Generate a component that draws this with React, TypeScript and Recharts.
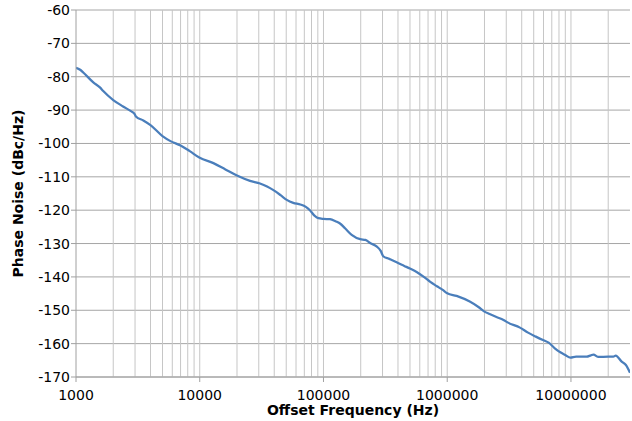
import React from 'react';
import { LineChart, Line, XAxis, YAxis, CartesianGrid, ReferenceLine } from 'recharts';

const freqs = [
  1000, 1080, 1150, 1380, 1560, 1660, 2000, 2400, 2800, 2950, 3050, 3500, 4000, 5000, 5800, 7000, 8300,
  10000, 12900, 16000, 20000, 25500, 30700, 35000, 39400, 45000, 50500, 57000, 65000, 72000, 78000, 85000, 91000,
  100000, 113000, 125000, 136000, 150000, 169000, 198000, 218000, 240000, 270000, 290000, 304000, 340000, 390000, 450000, 500000, 570000, 643000, 730000, 826000, 920000,
  1000000, 1190000, 1520000, 1800000, 2000000, 2200000, 2500000, 2850000, 3100000, 3870000, 4500000, 5200000, 6000000, 6600000, 7400000, 8200000, 9000000, 9900000,
  11000000, 13400000, 14500000, 15200000, 16700000, 20000000, 22000000, 23000000, 25700000, 27800000, 30000000,
];
const noise = [
  -77.3, -77.9, -78.8, -81.7, -83.2, -84.3, -87.0, -88.9, -90.4, -91.0, -91.9, -93.1, -94.5, -97.8, -99.3, -100.6, -102.3,
  -104.3, -105.9, -107.7, -109.6, -111.2, -112.0, -112.9, -114.0, -115.5, -116.9, -117.8, -118.3, -119.0, -120.1, -121.7, -122.4,
  -122.6, -122.7, -123.3, -124.0, -125.5, -127.4, -128.7, -128.9, -129.9, -130.9, -132.2, -133.8, -134.6, -135.6, -136.7, -137.5, -138.6, -139.9, -141.5, -142.8, -143.9,
  -144.9, -145.7, -147.4, -149.1, -150.4, -151.1, -152.0, -152.9, -153.7, -155.2, -156.7, -157.9, -159.0, -159.7, -161.4, -162.6, -163.4, -164.2,
  -163.9, -163.9, -163.5, -163.3, -164.0, -163.9, -163.9, -163.6, -165.4, -166.4, -168.7,
];
const xTicks = [1000, 10000, 100000, 1000000, 10000000];
const yTicks = [-170, -160, -150, -140, -130, -120, -110, -100, -90, -80, -70, -60];
const minorGrid = [
  2000, 3000, 4000, 5000, 6000, 7000, 8000, 9000,
  10000, 20000, 30000, 40000, 50000, 60000, 70000, 80000, 90000,
  100000, 200000, 300000, 400000, 500000, 600000, 700000, 800000, 900000,
  1000000, 2000000, 3000000, 4000000, 5000000, 6000000, 7000000, 8000000, 9000000,
  10000000, 20000000,
];

const data = freqs.map((f, i) => ({ f, v: noise[i] }));

const font = 'DejaVu Sans, Verdana, sans-serif';

export default function App() {
  return (
    <div style={{ position: 'absolute', left: 0, top: 0 }}>
      <LineChart width={632} height={421} data={data} margin={{ top: 10, right: 2, bottom: 0, left: 0 }}>
        <CartesianGrid vertical={false} stroke="#a6a6a6" strokeWidth={1} />
        {minorGrid.map((g) => (
          <ReferenceLine key={g} x={g} stroke="#c6c6c6" strokeWidth={1} ifOverflow="hidden" />
        ))}
        <XAxis
          dataKey="f"
          type="number"
          scale="log"
          domain={[1000, 30000000]}
          ticks={xTicks}
          allowDataOverflow
          height={44}
          tickSize={5}
          tickMargin={8}
          stroke="#a0a0a0"
          tick={{ fill: '#000', fontSize: 14, fontFamily: font }}
          label={{
            value: 'Offset Frequency (Hz)',
            position: 'insideBottom',
            offset: 6,
            style: { fill: '#000', fontSize: 14, fontWeight: 'bold', fontFamily: font },
          }}
        />
        <YAxis
          type="number"
          domain={[-170, -60]}
          ticks={yTicks}
          allowDataOverflow
          width={76}
          tickSize={5}
          tickMargin={1}
          stroke="#a0a0a0"
          tick={{ fill: '#000', fontSize: 14, fontFamily: font }}
          label={{
            value: 'Phase Noise (dBc/Hz)',
            angle: -90,
            position: 'insideLeft',
            offset: 18,
            style: { textAnchor: 'middle', fill: '#000', fontSize: 14, fontWeight: 'bold', fontFamily: font },
          }}
        />
        <Line
          dataKey="v"
          type="monotone"
          stroke="#4a7ebb"
          strokeWidth={2.25}
          dot={false}
          isAnimationActive={false}
        />
      </LineChart>
    </div>
  );
}
